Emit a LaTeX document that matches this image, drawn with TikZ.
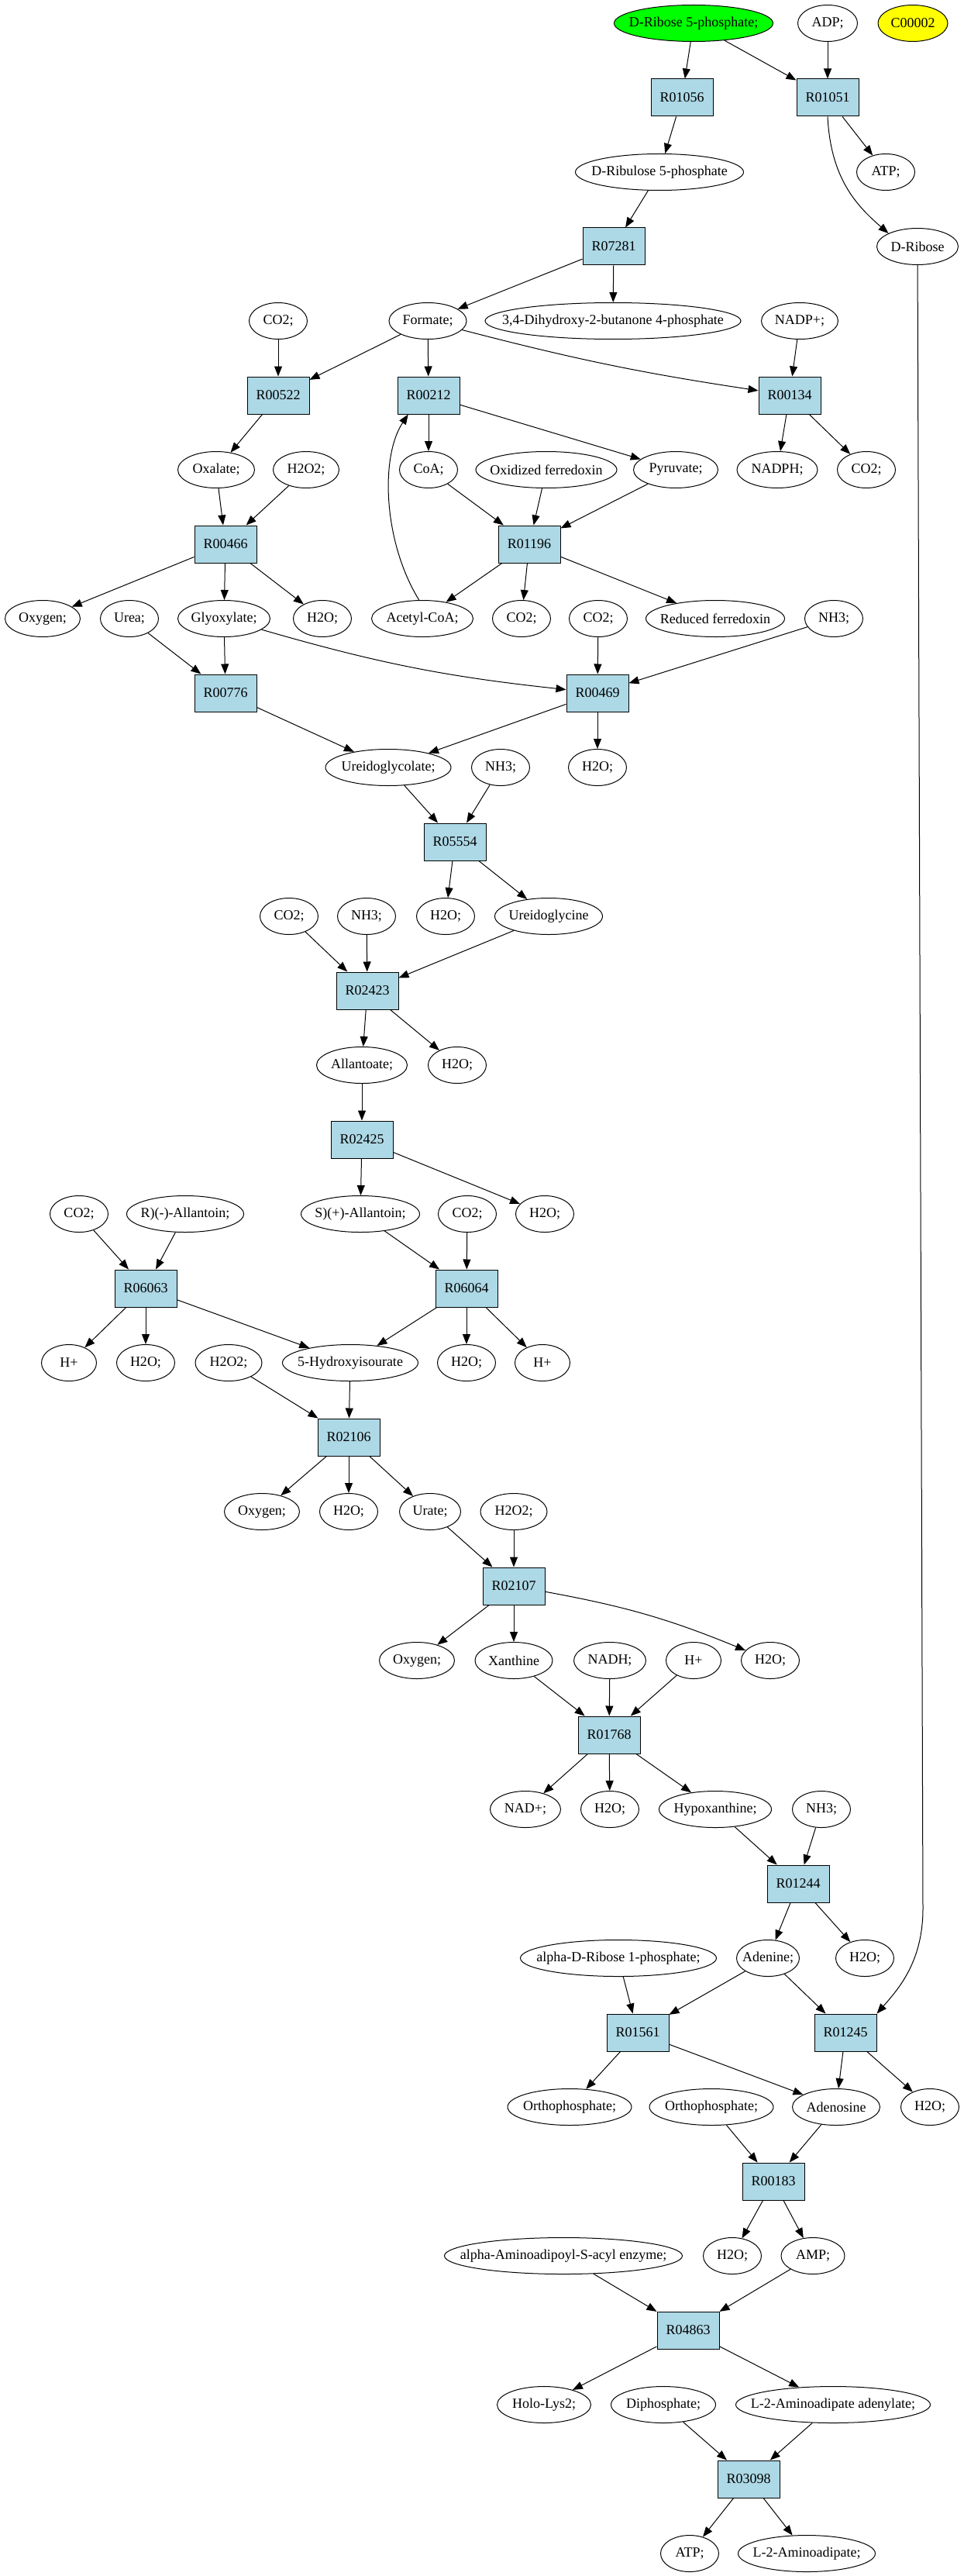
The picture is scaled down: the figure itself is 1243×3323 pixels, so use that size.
\documentclass[tikz,border=0pt]{standalone}
\usepackage{fontspec}
\setmainfont{Liberation Serif}
\usepackage{tikz}
\usetikzlibrary{arrows.meta}
\usetikzlibrary{shapes}
\definecolor{LightBlue}{RGB}{173,216,230}
\definecolor{PureGreen}{RGB}{0,255,0}
\definecolor{PureYellow}{RGB}{255,255,0}
\newcommand{\lbl}[1]{\makebox[0pt]{#1}}

\begin{document}
\begin{tikzpicture}[x=0.5pt, y=-0.5pt, line width=0.5pt,
 >={Triangle[length=6.5pt,width=5pt]},
 font=\fontsize{9}{11}\selectfont,
 met/.style = {draw, ellipse, inner sep=0pt, minimum height=23.5pt, minimum width=#1},
 met/.default = 37.5pt,
 rxn/.style = {draw, rectangle, fill=LightBlue, inner sep=0pt, minimum height=24pt, minimum width=40pt},
                        ]
    \useasboundingbox (0,0) rectangle (1243,3323);

    \node [met=102.5pt, fill=PureGreen] (dr5p) at (895,30) {\lbl{D-Ribose 5-phosphate;}};
    \node [met=38.5pt] (adp) at (1068,30) {\lbl{ADP;}};
    \node [met=45pt, fill=PureYellow] (c00002) at (1178,30) {\lbl{C00002}};

    \node [rxn] (r01056) at (880,126) {R01056};
    \node [rxn] (r01051) at (1068,126) {R01051};

    \node [met=108.5pt] (dru5p) at (851,222) {\lbl{D-Ribulose 5-phosphate}};
    \node [met] (atp1) at (1143,222) {\lbl{ATP;}};

    \node [rxn] (r07281) at (792,318) {R07281};
    \node [met=52.5pt] (drib) at (1184,318) {\lbl{D-Ribose}};

    \node [met] (co2a) at (359,414) {\lbl{CO2;}};
    \node [met=50pt] (formate) at (552,414) {\lbl{Formate;}};
    \node [met=165pt] (dhbp) at (791,414) {\lbl{3,4-Dihydroxy-2-butanone 4-phosphate}};
    \node [met=49.5pt] (nadp) at (1032,414) {\lbl{NADP+;}};

    \node [rxn] (r00522) at (359,510) {R00522};
    \node [rxn] (r00212) at (553,510) {R00212};
    \node [rxn] (r00134) at (1019,510) {R00134};

    \node [met=49.5pt] (oxalate) at (279,606) {\lbl{Oxalate;}};
    \node [met=42.5pt] (h2o2a) at (395,606) {\lbl{H2O2;}};
    \node [met] (coa) at (553,606) {\lbl{CoA;}};
    \node [met=91pt] (oxfd) at (705,606) {\lbl{Oxidized ferredoxin}};
    \node [met=54.5pt] (pyruvate) at (872,606) {\lbl{Pyruvate;}};
    \node [met=52pt] (nadph) at (1003,606) {\lbl{NADPH;}};
    \node [met] (co2b) at (1118,606) {\lbl{CO2;}};

    \node [rxn] (r00466) at (291,702) {R00466};
    \node [rxn] (r01196) at (683,702) {R01196};

    \node [met=48.5pt] (oxygena) at (55,798) {\lbl{Oxygen;}};
    \node [met] (urea) at (167,798) {\lbl{Urea;}};
    \node [met=59.5pt] (glyoxylate) at (289,798) {\lbl{Glyoxylate;}};
    \node [met] (h2oa) at (416,798) {\lbl{H2O;}};
    \node [met=65.5pt] (acetylcoa) at (545,798) {\lbl{Acetyl-CoA;}};
    \node [met] (co2c) at (673,798) {\lbl{CO2;}};
    \node [met] (co2d) at (772,798) {\lbl{CO2;}};
    \node [met=89.5pt] (redfd) at (923,798) {\lbl{Reduced ferredoxin}};
    \node [met] (nh3a) at (1076,798) {\lbl{NH3;}};

    \node [rxn] (r00776) at (291,894) {R00776};
    \node [rxn] (r00469) at (771,894) {R00469};

    \node [met=81pt] (ureidoglycolate) at (501,990) {\lbl{Ureidoglycolate;}};
    \node [met] (nh3b) at (646,990) {\lbl{NH3;}};
    \node [met] (h2ob) at (771,990) {\lbl{H2O;}};

    \node [rxn] (r05554) at (587,1086) {R05554};

    \node [met] (co2e) at (373,1182) {\lbl{CO2;}};
    \node [met] (nh3c) at (473,1182) {\lbl{NH3;}};
    \node [met] (h2oc) at (575,1182) {\lbl{H2O;}};
    \node [met=69.5pt] (ureidoglycine) at (708,1182) {\lbl{Ureidoglycine}};

    \node [rxn] (r02423) at (474,1278) {R02423};

    \node [met=58.5pt] (allantoate) at (467,1374) {\lbl{Allantoate;}};
    \node [met] (h2od) at (590,1374) {\lbl{H2O;}};

    \node [rxn] (r02425) at (467,1470) {R02425};

    \node [met] (co2f) at (102,1566) {\lbl{CO2;}};
    \node [met=75.5pt] (rallantoin) at (239,1566) {\lbl{R)(-)-Allantoin;}};
    \node [met=76.5pt] (sallantoin) at (465,1566) {\lbl{S)(+)-Allantoin;}};
    \node [met] (co2g) at (603,1566) {\lbl{CO2;}};
    \node [met] (h2oe) at (703,1566) {\lbl{H2O;}};

    \node [rxn] (r06063) at (188,1662) {R06063};
    \node [rxn] (r06064) at (602,1662) {R06064};

    \node [met=35.5pt] (hplusa) at (89,1758) {\lbl{H+}};
    \node [met] (h2of) at (188,1758) {\lbl{H2O;}};
    \node [met=43pt] (h2o2b) at (295,1758) {\lbl{H2O2;}};
    \node [met=87.5pt] (hiu) at (452,1758) {\lbl{5-Hydroxyisourate}};
    \node [met] (h2og) at (602,1758) {\lbl{H2O;}};
    \node [met=35.5pt] (hplusb) at (700,1758) {\lbl{H+}};

    \node [rxn] (r02106) at (450,1854) {R02106};

    \node [met=48.5pt] (oxygenb) at (338,1950) {\lbl{Oxygen;}};
    \node [met] (h2oh) at (450,1950) {\lbl{H2O;}};
    \node [met=39.5pt] (urate) at (555,1950) {\lbl{Urate;}};
    \node [met=43pt] (h2o2c) at (663,1950) {\lbl{H2O2;}};

    \node [rxn] (r02107) at (663,2046) {R02107};

    \node [met=48.5pt] (oxygenc) at (538,2142) {\lbl{Oxygen;}};
    \node [met=50pt] (xanthine) at (663,2142) {\lbl{Xanthine}};
    \node [met=46.5pt] (nadh) at (787,2142) {\lbl{NADH;}};
    \node [met=35.5pt] (hplusc) at (895,2142) {\lbl{H+}};
    \node [met] (h2oi) at (994,2142) {\lbl{H2O;}};

    \node [rxn] (r01768) at (786,2238) {R01768};

    \node [met=45.5pt] (nad) at (678,2334) {\lbl{NAD+;}};
    \node [met] (h2oj) at (787,2334) {\lbl{H2O;}};
    \node [met=72.5pt] (hypoxanthine) at (923,2334) {\lbl{Hypoxanthine;}};
    \node [met] (nh3d) at (1060,2334) {\lbl{NH3;}};

    \node [rxn] (r01244) at (1030,2430) {R01244};

    \node [met=126.5pt] (adr1p) at (798,2526) {\lbl{alpha-D-Ribose 1-phosphate;}};
    \node [met=40.5pt] (adenine) at (991,2526) {\lbl{Adenine;}};
    \node [met] (h2ok) at (1116,2526) {\lbl{H2O;}};

    \node [rxn] (r01561) at (823,2622) {R01561};
    \node [rxn] (r01245) at (1091,2622) {R01245};

    \node [met=80pt] (pia) at (735,2718) {\lbl{Orthophosphate;}};
    \node [met=80pt] (pib) at (918,2718) {\lbl{Orthophosphate;}};
    \node [met=56.5pt] (adenosine) at (1079,2718) {\lbl{Adenosine}};
    \node [met] (h2ol) at (1200,2718) {\lbl{H2O;}};

    \node [rxn] (r00183) at (998,2814) {R00183};

    \node [met=153.5pt] (aasa) at (727,2910) {\lbl{alpha-Aminoadipoyl-S-acyl enzyme;}};
    \node [met] (h2om) at (945,2910) {\lbl{H2O;}};
    \node [met=41pt] (amp) at (1049,2910) {\lbl{AMP;}};

    \node [rxn] (r04863) at (888,3006) {R04863};

    \node [met=60.5pt] (hololys) at (702,3102) {\lbl{Holo-Lys2;}};
    \node [met=67.5pt] (ppi) at (856,3102) {\lbl{Diphosphate;}};
    \node [met=125.5pt] (aaad) at (1075,3102) {\lbl{L-2-Aminoadipate adenylate;}};

    \node [rxn] (r03098) at (966,3198) {R03098};

    \node [met] (atp2) at (890,3294) {\lbl{ATP;}};
    \node [met=88.5pt] (aad) at (1041,3294) {\lbl{L-2-Aminoadipate;}};

    \path (dr5p) edge [->] (r01056)
          (dr5p) edge [->] (r01051)
          (adp) edge [->] (r01051)
          (r01056) edge [->] (dru5p)
          (r01051) edge [->] (atp1)
          (dru5p) edge [->] (r07281)
          (r07281) edge [->] (formate)
          (r07281) edge [->] (dhbp)
          (co2a) edge [->] (r00522)
          (formate) edge [->] (r00522)
          (formate) edge [->] (r00212)
          (formate) edge [bend right=3,->] (r00134)
          (nadp) edge [->] (r00134)
          (r00134) edge [->] (nadph)
          (r00134) edge [->] (co2b)
          (r00522) edge [->] (oxalate)
          (r00212) edge [->] (coa)
          (r00212) edge [->] (pyruvate)
          (oxalate) edge [->] (r00466)
          (h2o2a) edge [->] (r00466)
          (coa) edge [->] (r01196)
          (oxfd) edge [->] (r01196)
          (pyruvate) edge [->] (r01196)
          (r00466) edge [->] (oxygena)
          (r00466) edge [->] (glyoxylate)
          (r00466) edge [->] (h2oa)
          (r01196) edge [->] (acetylcoa)
          (r01196) edge [->] (co2c)
          (r01196) edge [->] (redfd);

    \path (urea) edge [->] (r00776)
          (glyoxylate) edge [->] (r00776)
          (glyoxylate) edge [bend right=5,->] (r00469)
          (co2d) edge [->] (r00469)
          (nh3a) edge [->] (r00469)
          (r00776) edge [->] (ureidoglycolate)
          (r00469) edge [->] (ureidoglycolate)
          (r00469) edge [->] (h2ob)
          (ureidoglycolate) edge [->] (r05554)
          (nh3b) edge [->] (r05554)
          (r05554) edge [->] (h2oc)
          (r05554) edge [->] (ureidoglycine)
          (co2e) edge [->] (r02423)
          (nh3c) edge [->] (r02423)
          (ureidoglycine) edge [->] (r02423)
          (r02423) edge [->] (allantoate)
          (r02423) edge [->] (h2od)
          (allantoate) edge [->] (r02425)
          (r02425) edge [->] (sallantoin)
          (r02425) edge [->] (h2oe)
          (co2f) edge [->] (r06063)
          (rallantoin) edge [->] (r06063)
          (sallantoin) edge [->] (r06064)
          (co2g) edge [->] (r06064)
          (r06063) edge [->] (hplusa)
          (r06063) edge [->] (h2of)
          (r06063) edge [->] (hiu)
          (r06064) edge [->] (hiu)
          (r06064) edge [->] (h2og)
          (r06064) edge [->] (hplusb);

    \path (h2o2b) edge [->] (r02106)
          (hiu) edge [->] (r02106)
          (r02106) edge [->] (oxygenb)
          (r02106) edge [->] (h2oh)
          (r02106) edge [->] (urate)
          (urate) edge [->] (r02107)
          (h2o2c) edge [->] (r02107)
          (r02107) edge [->] (oxygenc)
          (r02107) edge [->] (xanthine)
          (r02107) edge [bend left=6,->] (h2oi)
          (xanthine) edge [->] (r01768)
          (nadh) edge [->] (r01768)
          (hplusc) edge [->] (r01768)
          (r01768) edge [->] (nad)
          (r01768) edge [->] (h2oj)
          (r01768) edge [->] (hypoxanthine)
          (hypoxanthine) edge [->] (r01244)
          (nh3d) edge [->] (r01244)
          (r01244) edge [->] (adenine)
          (r01244) edge [->] (h2ok)
          (adr1p) edge [->] (r01561)
          (adenine) edge [->] (r01561)
          (adenine) edge [->] (r01245)
          (r01561) edge [->] (pia)
          (r01561) edge [->] (adenosine)
          (r01245) edge [->] (adenosine)
          (r01245) edge [->] (h2ol)
          (pib) edge [->] (r00183)
          (adenosine) edge [->] (r00183)
          (r00183) edge [->] (h2om)
          (r00183) edge [->] (amp)
          (aasa) edge [->] (r04863)
          (amp) edge [->] (r04863)
          (r04863) edge [->] (hololys)
          (r04863) edge [->] (aaad)
          (ppi) edge [->] (r03098)
          (aaad) edge [->] (r03098)
          (r03098) edge [->] (atp2)
          (r03098) edge [->] (aad);

    \draw [->] (r01051.south) .. controls (1072,230) and (1105,265) .. (drib.north west);
    \draw [->] (acetylcoa.100) .. controls (495,700) and (490,590) .. (r00212.223);
    \draw [->] (drib) -- (1191,2462) .. controls (1191,2530) and (1160,2565) .. (r01245.north east);

\end{tikzpicture}
\end{document}
